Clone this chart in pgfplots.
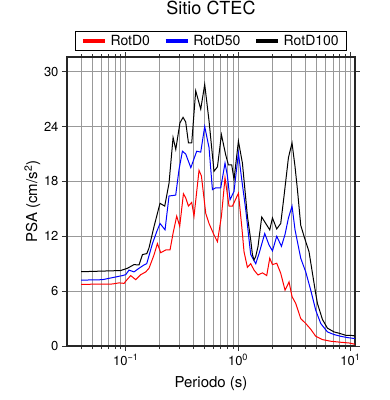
\documentclass[border=0pt]{standalone}
\usepackage{fontspec}
\setmainfont{TeX Gyre Heros}
\usepackage{pgfplots}
\pgfplotsset{compat=1.18}
\usepackage{pgfplotstable}

\pgfplotstableread{
p v
0.04 6.74
0.0762 6.78
0.0872 6.9
0.0966 6.85
0.1035 7.3
0.1108 7.7
0.1228 7.25
0.136 7.8
0.1507 8.1
0.1612 8.5
0.1786 9.96
0.1915 11.2
0.205 10.2
0.227 10.5
0.248 10.5
0.2637 12.3
0.2844 14.2
0.3026 13.1
0.3265 16.65
0.342 16.2
0.3617 15.3
0.387 15.7
0.4056 14.2
0.4495 19.2
0.472 18.6
0.516 14.5
0.5517 13.4
0.611 12.15
0.6556 11.4
0.7115 14.2
0.766 18.4
0.8315 15.3
0.8916 15.3
1.008 16.7
1.079 13.1
1.131 10.3
1.212 8.6
1.297 9.0
1.388 8.3
1.507 7.76
1.65 8.0
1.801 7.7
1.916 9.6
2.025 8.9
2.211 9.05
2.4 7.95
2.621 6.1
2.846 7.0
3.026 5.4
3.264 4.65
3.617 3.0
4.007 2.46
4.441 1.83
4.921 1.06
5.645 0.7
6.692 0.52
8.21 0.41
9.74 0.33
11 0.19
}\rotdzero

\pgfplotstableread{
p v
0.04 7.2
0.062 7.25
0.0935 7.7
0.1 7.8
0.107 8.3
0.1185 8.1
0.1313 8.5
0.1455 8.86
0.1538 9.0
0.173 11.2
0.1888 12.5
0.202 13.4
0.2239 12.7
0.243 16.4
0.2787 16.5
0.2983 19.3
0.3198 21.3
0.342 21.0
0.38 19.5
0.4287 21.3
0.4655 21.2
0.505 24.0
0.5517 21.7
0.5916 17.1
0.633 17.3
0.7015 17.3
0.766 20.0
0.8043 18.6
0.8488 16.0
0.921 16.9
1.008 21.1
1.079 18.2
1.171 14.9
1.297 10.0
1.438 9.0
1.538 10.1
1.729 12.3
1.888 11.05
2.025 10.4
2.211 12.0
2.435 10.9
2.621 12.2
2.811 14.0
3.026 15.3
3.218 12.7
3.617 9.6
4.007 8.1
4.441 6.1
4.921 3.9
5.451 2.46
6.254 1.54
7.16 1.25
8.21 1.06
9.42 0.92
11 0.81
}\rotdfifty

\pgfplotstableread{
p v
0.04 8.12
0.09 8.25
0.1035 8.5
0.1185 8.9
0.1313 8.86
0.141 10.0
0.154 10.1
0.161 10.7
0.179 13.1
0.202 15.6
0.2225 15.3
0.243 17.8
0.264 22.8
0.279 21.5
0.304 24.4
0.324 25.0
0.342 24.5
0.362 22.2
0.387 22.2
0.42 27.9
0.4655 25.9
0.505 28.6
0.552 24.6
0.611 19.1
0.656 19.6
0.7115 23.1
0.777 20.9
0.821 19.8
0.879 19.8
0.921 18.2
1.008 22.4
1.094 20.0
1.212 14.2
1.297 11.6
1.343 10.0
1.388 9.4
1.438 9.8
1.507 10.9
1.626 14.1
1.765 13.4
1.916 12.7
2.025 14.0
2.211 12.8
2.4 13.4
2.568 16.4
2.811 20.6
3.026 22.2
3.218 19.6
3.38 17.1
3.617 13.2
3.87 12.0
4.288 10.3
4.599 7.95
4.921 5.7
5.094 4.65
5.645 2.9
6.254 1.95
7.16 1.54
7.93 1.4
9.1 1.17
10.08 1.17
11 1.1
}\rotdhundred

\begin{document}
\begin{tikzpicture}
\begin{axis}[
  at={(0,0)}, anchor=south west,
  scale only axis, width=288pt, height=289pt,
  xmode=log, xmin=0.03, xmax=11, ymin=0, ymax=31.6,
  ytick={0,6,12,18,24,30},
  xtick={0.1,1,10},
  xticklabels={10\textsuperscript{−1},10\textsuperscript{0},10\textsuperscript{1}},
  minor xtick={0.04,0.05,0.06,0.07,0.08,0.09,0.2,0.3,0.4,0.5,0.6,0.7,0.8,0.9,2,3,4,5,6,7,8,9},
  grid=both,
  major grid style={black!40, line width=0.5pt},
  minor grid style={black!40, line width=0.5pt},
  tick align=outside,
  major tick length=5pt, minor tick length=3pt,
  tick style={black!80, line width=0.6pt},
  axis line style={black!85, line width=1.6pt},
  /pgf/number format/assume math mode=true,
  ticklabel style={font=\fontsize{13}{15}\selectfont},
  title={Sitio CTEC},
  title style={at={(axis description cs:0.5,1.128)}, anchor=base, font=\fontsize{18}{20}\selectfont},
  xlabel={Periodo (s)},
  ylabel={PSA (cm/s\textsuperscript{2})},
  label style={font=\fontsize{15}{17}\selectfont},
  xlabel style={at={(axis description cs:0.5,-0.1445)}, anchor=base},
  ylabel style={at={(axis description cs:-0.104,0.5)}, anchor=base},
  legend columns=3,
  legend style={at={(axis description cs:0.5,1)}, anchor=south, yshift=6pt,
    draw=black, line width=1.2pt, inner xsep=6pt, inner ysep=1.5pt,
    font=\fontsize{14}{16}\selectfont,
    /tikz/every odd column/.append style={column sep=2pt},
    /tikz/every even column/.append style={column sep=12pt}},
  legend image code/.code={\draw[line width=3.3pt] (0pt,0pt) -- (22pt,0pt);},
]
\addplot[red, line width=1pt] table[x=p, y=v] {\rotdzero};
\addlegendentry{RotD0}
\addplot[blue, line width=1pt] table[x=p, y=v] {\rotdfifty};
\addlegendentry{RotD50}
\addplot[black, line width=1pt] table[x=p, y=v] {\rotdhundred};
\addlegendentry{RotD100}
\end{axis}
\pgfresetboundingbox
\path (-67pt,-54pt) rectangle (323pt,346pt);
\end{tikzpicture}
\end{document}
